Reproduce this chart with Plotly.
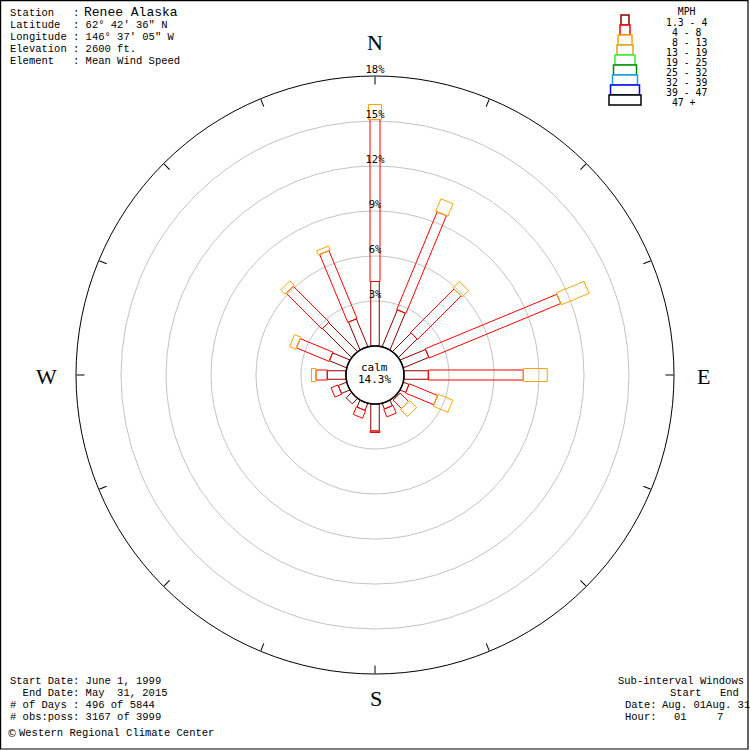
import math
import plotly.graph_objects as go

# ---------------- data ----------------
directions = ["N", "NNE", "NE", "ENE", "E", "ESE", "SE", "SSE",
              "S", "SSW", "SW", "WSW", "W", "WNW", "NW", "NNW"]
# percent of observations per speed class (segment length), per direction
pct_1_4 = [4.3, 2.65, 1.75, 1.83, 1.62, 0.4, 0.1, 0.4,
           1.8, 0.5, 0.5, 0.6, 1.25, 1.24, 2.73, 2.0]
pct_4_8 = [10.8, 7.05, 4.1, 9.5, 6.33, 2.05, 0.8, 0.55,
           0.1, 0.55, 0.0, 0.5, 0.75, 2.36, 3.37, 4.9]
pct_8_13 = [1.0, 0.9, 0.6, 2.0, 1.6, 1.05, 0.65, 0.0,
            0.0, 0.0, 0.0, 0.0, 0.3, 0.45, 0.42, 0.3]
calm_pct = 14.3
radial_ticks = [3, 6, 9, 12, 15, 18]
speed_labels = ["1.3 - 4", " 4 - 8", " 8 - 13", "13 - 19", "19 - 25",
                "25 - 32", "32 - 39", "39 - 47", " 47 +"]
speed_colors = ["#8b0000", "#ff0000", "#ffa500", "#daa520", "#33ee33",
                "#008800", "#1e9bff", "#0000ee", "#000000"]

header_keys = ["Station   :", "Latitude  : 62° 42' 36\" N", "Longitude : 146° 37' 05\" W",
               "Elevation : 2600 ft.", "Element   : Mean Wind Speed"]
station_name = "Renee Alaska"
footer_left = ["Start Date: June 1, 1999", "  End Date: May  31, 2015",
               "# of Days : 496 of 5844", "# obs:poss: 3167 of 3999"]
credit = "Western Regional Climate Center"

# ---------------- geometry helpers ----------------
W = H = 750
CX = CY = 375
R_OUT = 299
R_MAX = 18
R0 = 29 / 15.0          # calm circle radius, in % units
PXU = R_OUT / (R_MAX + R0)  # px per % unit
angles = [i * 360.0 / len(directions) for i in range(len(directions))]
halfw = [4.25 / PXU, 5.0 / PXU, 6.5 / PXU]


def rect_pts(theta, r_a, r_b, hw):
    rs, ts = [], []
    for d, s in [(r_a, -1), (r_b, -1), (r_b, 1), (r_a, 1), (r_a, -1)]:
        D = d + R0
        rs.append(math.hypot(D, hw) - R0)
        ts.append(theta + s * math.degrees(math.atan2(hw, D)))
    return rs, ts


fig = go.Figure()

classes = [pct_1_4, pct_4_8, pct_8_13]
for ci, vals in enumerate(classes):
    R, T = [], []
    for k, th in enumerate(angles):
        if vals[k] <= 0:
            continue
        start = sum(classes[j][k] for j in range(ci))
        rs, ts = rect_pts(th, start, start + vals[k], halfw[ci])
        R += rs + [None]
        T += ts + [None]
    fig.add_trace(go.Scatterpolar(r=R, theta=T, mode="lines",
                                  line=dict(color=speed_colors[ci], width=1),
                                  connectgaps=False, hoverinfo="skip"))

# calm circle
circ_t = [i * 2 for i in range(181)]
fig.add_trace(go.Scatterpolar(r=[0] * len(circ_t), theta=circ_t, mode="lines",
                              line=dict(color="black", width=1.6), hoverinfo="skip"))

# radial labels
fig.add_trace(go.Scatterpolar(r=radial_ticks, theta=[0] * len(radial_ticks),
                              mode="text", text=[f"{t}%" for t in radial_ticks],
                              textposition="top center",
                              textfont=dict(family="DejaVu Sans Mono", size=10.5, color="black"),
                              cliponaxis=False, hoverinfo="skip"))

dom = [(CX - R_OUT) / W, (CX + R_OUT) / W]
fig.update_layout(
    width=W, height=H, margin=dict(l=0, r=0, t=0, b=0),
    paper_bgcolor="white", showlegend=False,
    polar=dict(
        domain=dict(x=dom, y=dom), bgcolor="white",
        radialaxis=dict(range=[-R0, R_MAX], tickvals=radial_ticks[:-1], showticklabels=False,
                        ticks="", showline=False, gridcolor="#c4c4c4", gridwidth=1,
                        layer="below traces"),
        angularaxis=dict(rotation=90, direction="clockwise", tickvals=angles,
                         ticks="inside", ticklen=8, tickcolor="black", tickwidth=1,
                         showticklabels=False, showgrid=False, showline=True,
                         linecolor="black", linewidth=1, layer="below traces"),
    ),
)

ann = []


def txt(x, y, s, size=10.5, family="Liberation Mono", anchor="left"):
    ann.append(dict(x=x / W, y=1 - y / H, xref="paper", yref="paper",
                    text=s.replace(" ", "\u00a0"), showarrow=False,
                    xanchor=anchor, yanchor="middle", borderpad=0,
                    font=dict(family=family, size=size, color="black")))


# header
for i, s in enumerate(header_keys):
    txt(9, 13 + 12 * i, s)
txt(83, 12, station_name, size=13)

# compass letters
txt(375, 42, "N", size=22, family="Liberation Serif", anchor="center")
txt(703, 376, "E", size=22, family="Liberation Serif", anchor="center")
txt(376, 698, "S", size=22, family="Liberation Serif", anchor="center")
txt(46, 376, "W", size=22, family="Liberation Serif", anchor="center")

# calm
txt(374, 367, "calm", size=11, family="DejaVu Sans Mono", anchor="center")
txt(374, 379, f"{calm_pct}%", size=11, family="DejaVu Sans Mono", anchor="center")

# footer left
for i, s in enumerate(footer_left):
    txt(9, 681 + 12 * i, s)
txt(6, 733, "©", size=10, family="DejaVu Sans")
txt(18, 733, credit)

# footer right
txt(617, 681, "Sub-interval Windows")
txt(669, 693, "Start")
txt(719, 693, "End")
txt(624, 705, "Date:")
txt(661, 705, "Aug. 01Aug. 31")
txt(624, 717, "Hour:")
txt(673, 717, "01")
txt(716, 717, "7")

# legend
txt(665, 11, "  MPH", size=9.8, family="DejaVu Sans Mono")
for i, s in enumerate(speed_labels):
    txt(665, 23 + 9.9 * i, s, size=9.8, family="DejaVu Sans Mono")

shapes = []
leg_half = [4, 5, 7, 8, 10, 11.5, 12.5, 14.5, 16]
for i, c in enumerate(speed_colors):
    cxl = 625
    y0 = 15 + 10 * i
    shapes.append(dict(type="rect", xref="paper", yref="paper",
                       x0=(cxl - leg_half[i]) / W, x1=(cxl + leg_half[i]) / W,
                       y0=1 - y0 / H, y1=1 - (y0 + 10) / H,
                       line=dict(color=c, width=1.5), fillcolor="white"))
# border
shapes.append(dict(type="rect", xref="paper", yref="paper",
                   x0=0.6 / W, x1=748 / W, y0=1 - 0.6 / H, y1=1 - 749 / H,
                   line=dict(color="black", width=1.2)))

fig.update_layout(annotations=ann, shapes=shapes)
fig.write_html("out.html", config={"displayModeBar": False},
               post_script="document.body.style.margin='0px';")
